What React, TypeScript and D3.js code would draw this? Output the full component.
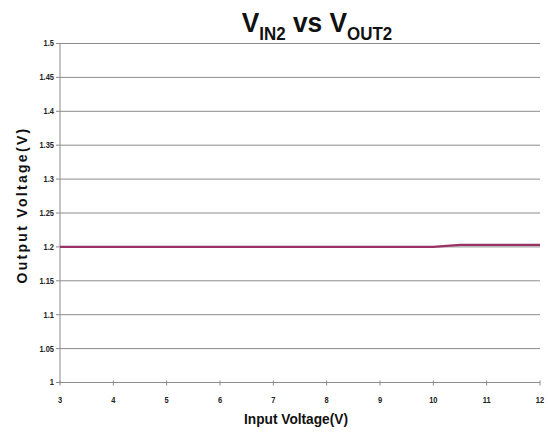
import React from "react";
import * as d3 from "d3";

const width = 548;
const height = 434;

const inputVoltage = [3, 4, 5, 6, 7, 8, 9, 10, 10.5, 11, 11.5, 12];
const outputVoltage = [1.2, 1.2, 1.2, 1.2, 1.2, 1.2, 1.2, 1.2, 1.203, 1.203, 1.203, 1.203];
const xTicks = [3, 4, 5, 6, 7, 8, 9, 10, 11, 12];
const yTicks = [1, 1.05, 1.1, 1.15, 1.2, 1.25, 1.3, 1.35, 1.4, 1.45, 1.5];

const font = "'Liberation Sans', Arial, sans-serif";

const margin = { left: 60, right: 8, top: 43.5, bottom: 51.5 };

export default function App() {
  const x = d3.scaleLinear().domain([3, 12]).range([margin.left, width - margin.right]);
  const y = d3.scaleLinear().domain([1, 1.5]).range([height - margin.bottom, margin.top]);

  const line = d3
    .line<number>()
    .x((d, i) => x(inputVoltage[i]))
    .y((d) => y(d));

  return (
    <svg
      width={width}
      height={height}
      style={{ position: "absolute", left: 0, top: 0, background: "#fff" }}
    >
      {/* grid + y ticks */}
      {yTicks.map((t) => (
        <g key={t}>
          <line x1={x(3) - 4} x2={x(12)} y1={y(t)} y2={y(t)} stroke="#8c8c8c" strokeWidth={1} />
          <g transform={`translate(${x(3) - 6}, ${y(t)}) scale(0.88, 1)`}>
            <text
              dy="0.35em"
              textAnchor="end"
              fontFamily={font}
              fontWeight="bold"
              fontSize={8.5}
              fill="#222"
            >
              {d3.format("")(t)}
            </text>
          </g>
        </g>
      ))}
      {/* axes */}
      <line x1={x(3)} x2={x(3)} y1={y(1.5)} y2={y(1) + 1} stroke="#8c8c8c" strokeWidth={1} />
      {xTicks.map((t) => (
        <g key={t}>
          <line x1={x(t)} x2={x(t)} y1={y(1) - 2} y2={y(1) + 3} stroke="#8c8c8c" strokeWidth={1} />
          <g transform={`translate(${x(t)}, ${y(1) + 20}) scale(0.88, 1)`}>
            <text textAnchor="middle" fontFamily={font} fontWeight="bold" fontSize={8.5} fill="#222">
              {t}
            </text>
          </g>
        </g>
      ))}
      {/* data */}
      <path d={line(outputVoltage) || ""} fill="none" stroke="#993366" strokeWidth={2.4} />
      {/* title */}
      <g transform="translate(317, 32) scale(0.94, 1)">
        <text textAnchor="middle" fontFamily={font} fontWeight="bold" fontSize={28} fill="#111">
          V<tspan fontSize={18} dy={8}>IN2</tspan>
          <tspan dy={-8}> vs V</tspan>
          <tspan fontSize={18} dy={8}>OUT2</tspan>
        </text>
      </g>
      {/* axis titles */}
      <g transform="translate(296, 424) scale(0.89, 1)">
        <text textAnchor="middle" fontFamily={font} fontWeight="bold" fontSize={15.4} fill="#111">
          Input Voltage(V)
        </text>
      </g>
      <text
        transform="translate(27, 205) rotate(-90)"
        textAnchor="middle"
        fontFamily={font}
        fontWeight="bold"
        fontSize={14}
        letterSpacing={2.3}
        fill="#111"
      >
        Output Voltage(V)
      </text>
    </svg>
  );
}
